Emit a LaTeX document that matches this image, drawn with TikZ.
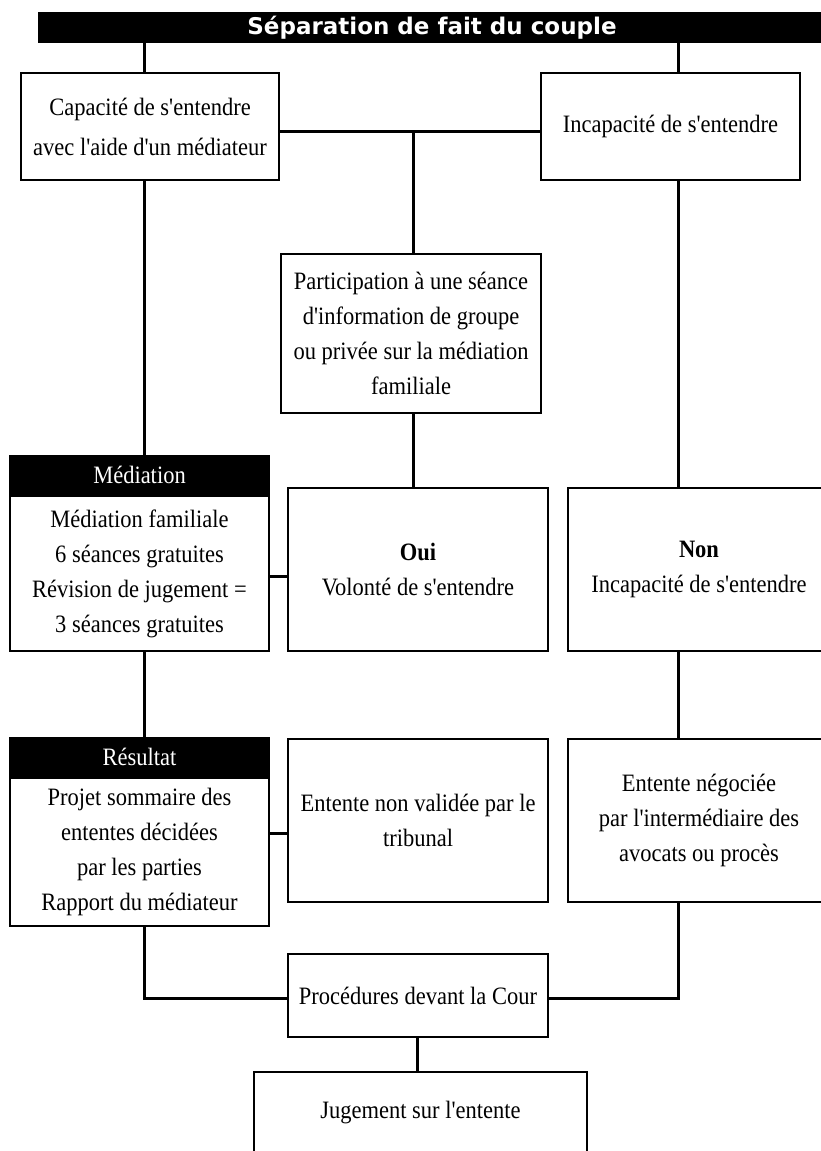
\documentclass[tikz,border=0pt]{standalone}
\usepackage{fontspec}
\setmainfont{Liberation Serif}[Ligatures=TeXOff, FakeStretch=0.9]
\newfontfamily\titrefont{DejaVu Sans}
\usepackage{tikz}
\usetikzlibrary{positioning}

\tikzset{
  boite/.style={draw, line width=1.2pt, fill=white, align=center, inner sep=0pt,
    font=\fontsize{25}{35}\selectfont},
  tete/.style={boite, fill=black, text=white},
  bandeau/.style={fill=black, text=white, inner sep=0pt,
    font=\titrefont\bfseries\fontsize{23}{23}\selectfont},
  lien/.style={line width=3pt},
}

\begin{document}
\begin{tikzpicture}[x=1pt, y=-1pt]
  \useasboundingbox (0,0) rectangle (821,1151);
  \node (titre) [bandeau, minimum width=788, minimum height=31] at (432,27.5) {Séparation de fait du couple};
  \node (cap) [boite, minimum width=258, minimum height=107, font=\fontsize{25}{40}\selectfont] at (150,126.5)
    {Capacité de s'entendre\\avec l'aide d'un médiateur};
  \node (inc) [boite, minimum width=259, minimum height=107] at (670.5,126.5) {Incapacité de s'entendre};
  \node (part) [boite, minimum width=260, minimum height=159] at (411,333.5)
    {Participation à une séance\\d'information de groupe\\ou privée sur la médiation\\familiale};
  \node (med) [boite, minimum width=259, minimum height=155] at (139.5,573.5)
    {Médiation familiale\\6 séances gratuites\\Révision de jugement =\\3 séances gratuites};
  \node (medtete) [tete, minimum width=259, minimum height=39, above=0pt of med] {Médiation};
  \node (oui) [boite, minimum width=260, minimum height=163] at (418,569.5) {\textbf{Oui}\\Volonté de s'entendre};
  \node (non) [boite, minimum width=262, minimum height=163] at (699,569.5) {\textbf{Non}\\Incapacité de s'entendre};
  \node (res) [boite, minimum width=259, minimum height=148] at (139.5,852)
    {Projet sommaire des\\ententes décidées\\par les parties\\Rapport du médiateur};
  \node (restete) [tete, minimum width=259, minimum height=39, above=0pt of res] {Résultat};
  \node (nval) [boite, minimum width=260, minimum height=163] at (418,820.5) {Entente non validée par le\\tribunal};
  \node (nego) [boite, minimum width=262, minimum height=163] at (699,820.5)
    {Entente négociée\\par l'intermédiaire des\\avocats ou procès};
  \node (proc) [boite, minimum width=260, minimum height=83] at (418,995.5) {Procédures devant la Cour};
  \node (jug) [boite, minimum width=333, minimum height=82] at (420.5,1113) {Jugement sur l'entente};

  \coordinate (g) at (144,0);
  \coordinate (d) at (678,0);
  \coordinate (m) at (413,131);
  \coordinate (b) at (417,0);
  \coordinate (h2) at (0,576);
  \coordinate (h3) at (0,833);
  \coordinate (h4) at (0,998);

  \draw[lien] (titre.south -| g) -- (cap.north -| g);
  \draw[lien] (titre.south -| d) -- (inc.north -| d);
  \draw[lien] (cap.east |- m) -- (inc.west |- m);
  \draw[lien] (m) -- (part.north -| m);
  \draw[lien] (cap.south -| g) -- (medtete.north -| g);
  \draw[lien] (part.south -| m) -- (oui.north -| m);
  \draw[lien] (inc.south -| d) -- (non.north -| d);
  \draw[lien] (med.east |- h2) -- (oui.west |- h2);
  \draw[lien] (med.south -| g) -- (restete.north -| g);
  \draw[lien] (non.south -| d) -- (nego.north -| d);
  \draw[lien] (res.east |- h3) -- (nval.west |- h3);
  \draw[lien] (res.south -| g) |- (proc.west |- h4);
  \draw[lien] (nego.south -| d) |- (proc.east |- h4);
  \draw[lien] (proc.south -| b) -- (jug.north -| b);
\end{tikzpicture}
\end{document}
